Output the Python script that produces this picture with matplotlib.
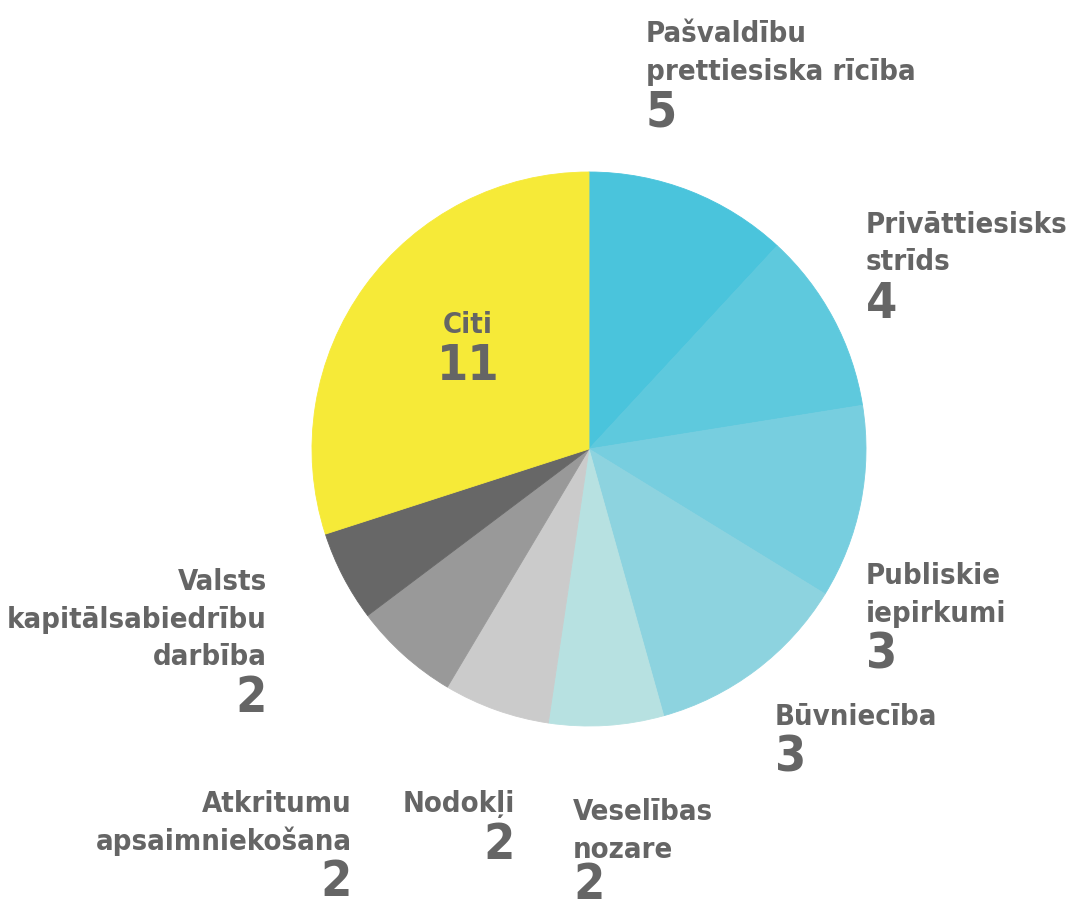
import numpy as np
import matplotlib
matplotlib.use('Agg')
import matplotlib.pyplot as plt

# categories (clockwise from 12 o'clock) and their counts
categories = ['Pašvaldību\nprettiesiska rīcība', 'Privāttiesisks\nstrīds', 'Publiskie\niepirkumi',
              'Būvniecība', 'Veselības\nnozare', 'Nodokļi', 'Atkritumu\napsaimniekošana',
              'Valsts\nkapitālsabiedrību\ndarbība', 'Citi']
counts = [5, 4, 3, 3, 2, 2, 2, 2, 11]
# slice shares (%) as drawn in the picture
shares = [11.9, 10.6, 11.3, 11.9, 6.7, 6.2, 6.2, 5.3, 30.0]
colors = ['#4ac4dc', '#5ec9dd', '#77cedf', '#8dd3df', '#b7e1e1', '#cbcbcb', '#999999', '#676767', '#f6ea38']

W, H = 1070, 907
txt_color = '#656565'
plt.rcParams['font.family'] = ['DejaVu Sans']

fig = plt.figure(figsize=(W / 100, H / 100), dpi=100)
ax = fig.add_axes([0, 0, 1, 1])

wedges, _ = ax.pie(shares, colors=colors, startangle=90, counterclock=False,
                   center=(589, H - 449), radius=277)
for w, c in zip(wedges, colors):
    w.set_edgecolor(c)
    w.set_linewidth(0.6)
ax.set_xlim(0, W)
ax.set_ylim(0, H)
ax.set_aspect('equal')
ax.axis('off')

# label anchor: x, baseline of first line (image px), alignment
label_pos = [(646, 42, 'left'), (866, 233, 'left'), (866, 584, 'left'), (775, 725, 'left'),
             (573, 820, 'left'), (515, 812, 'right'), (352, 812, 'right'), (267, 590, 'right'),
             (468, 333, 'center')]
line_gap = 37.5
num_gap = 47

for name, n, (x, y, ha) in zip(categories, counts, label_pos):
    lines = name.split('\n')
    for i, ln in enumerate(lines):
        ax.text(x, H - (y + i * line_gap), ln, ha=ha, va='baseline',
                fontsize=21, fontweight='bold', fontstretch='condensed', color=txt_color)
    yn = min(y + (len(lines) - 1) * line_gap + num_gap, 899)
    ax.text(x, H - yn, str(n), ha=ha, va='baseline',
            fontsize=36, fontweight='bold', fontstretch='condensed', color=txt_color)

fig.savefig('out.png', dpi=100)
